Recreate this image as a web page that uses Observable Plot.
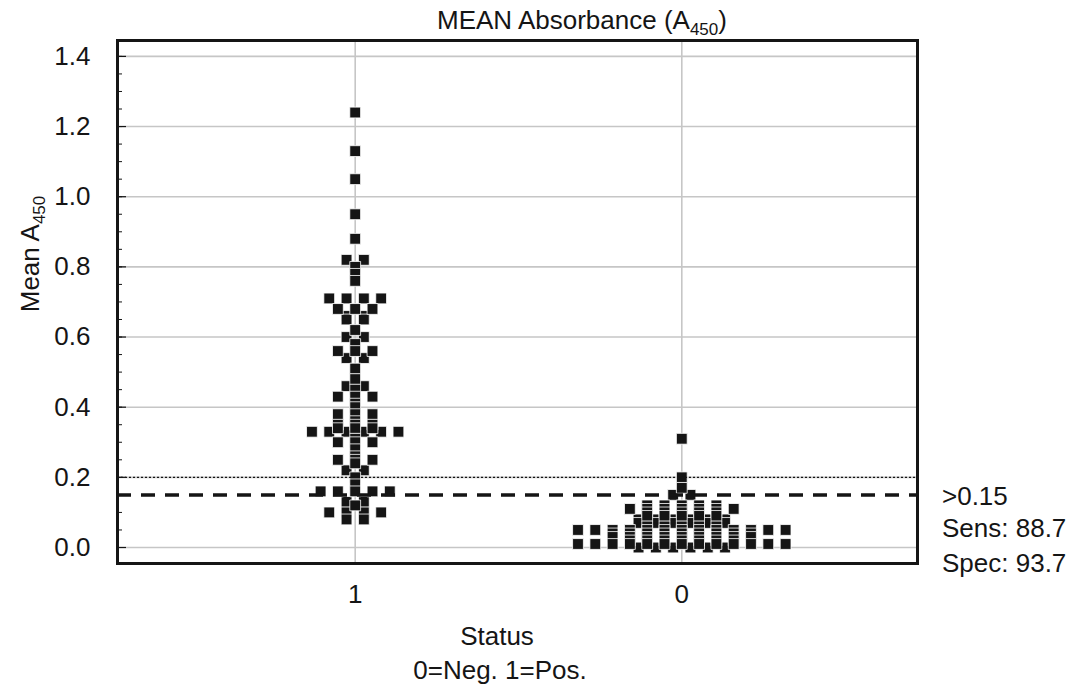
<!DOCTYPE html>
<html>
<head>
<meta charset="utf-8">
<script src="https://cdn.jsdelivr.net/npm/d3@7"></script>
<script src="https://cdn.jsdelivr.net/npm/@observablehq/plot@0.6"></script>
<style>
  html, body { margin: 0; padding: 0; background: #fff; }
  #chart { width: 1073px; height: 685px; }
  svg { font-family: "Liberation Sans", Arial, sans-serif; }
</style>
</head>
<body>
<div id="chart"></div>
<script>
// ---- data ----
const statusCategories = ["1", "0"];          // left to right
const tickLabels = ["1", "0"];
const yTicks = [0, 0.2, 0.4, 0.6, 0.8, 1.0, 1.2, 1.4];
const minorTicks = d3.range(0, 29).map(i => +(i * 0.05).toFixed(2));
const cutoff = 0.15;
const referenceLine = 0.2;
const criterionLabels = [">0.15", "Sens: 88.7", "Spec: 93.7"];

// Status 1 (positive) mean A450 values
const positiveValues = [
  1.24, 1.13, 1.05, 0.95, 0.88, 0.82, 0.82, 0.80, 0.78, 0.76,
  0.71, 0.71, 0.71, 0.71, 0.68, 0.68, 0.68, 0.66, 0.66, 0.65, 0.65, 0.62,
  0.60, 0.60, 0.58, 0.56, 0.56, 0.56, 0.54, 0.54, 0.51, 0.48, 0.46, 0.46, 0.45,
  0.43, 0.43, 0.43, 0.41, 0.40, 0.38, 0.38, 0.38, 0.36, 0.35, 0.35, 0.35,
  0.34, 0.34, 0.34, 0.33, 0.33, 0.33, 0.33, 0.33, 0.33, 0.31,
  0.30, 0.30, 0.30, 0.28, 0.26, 0.25, 0.25, 0.25, 0.24, 0.22, 0.22, 0.20, 0.18,
  0.16, 0.16, 0.16, 0.16, 0.16, 0.13, 0.13, 0.12, 0.10, 0.10, 0.10, 0.10, 0.08, 0.08
];
// Status 0 (negative) mean A450 values
const negativeValues = [
  0.31, 0.20, 0.17, 0.15, 0.15,
  0.12, 0.12, 0.12, 0.12, 0.12,
  0.11, 0.11, 0.11, 0.11, 0.11, 0.11, 0.11,
  0.10, 0.10, 0.10, 0.10, 0.10,
  0.09, 0.09, 0.09, 0.09, 0.09,
  0.08, 0.08, 0.08, 0.08, 0.08, 0.08,
  0.07, 0.07, 0.07, 0.07, 0.07, 0.07,
  0.06, 0.06, 0.06, 0.06, 0.06,
  0.05, 0.05, 0.05, 0.05, 0.05, 0.05, 0.05, 0.05, 0.05, 0.05, 0.05, 0.05, 0.05,
  0.04, 0.04, 0.04, 0.04, 0.04, 0.04, 0.04, 0.04, 0.04,
  0.03, 0.03, 0.03, 0.03, 0.03, 0.03, 0.03, 0.03, 0.03,
  0.02, 0.02, 0.02, 0.02, 0.02, 0.02, 0.02,
  0.01, 0.01, 0.01, 0.01, 0.01, 0.01, 0.01, 0.01, 0.01, 0.01, 0.01, 0.01, 0.01,
  0.00, 0.00, 0.00, 0.00, 0.00, 0.00
];

// ---- layout (dot plot: equal values spread side by side) ----
const W = 1073, H = 685;
const mL = 117, mR = 156, mT = 40, mB = 122;
const plotW = W - mL - mR;
const xDomain = [-0.7278, 1.7217];
const yDomain = [-0.0456, 1.4453];
const unitPx = plotW / (xDomain[1] - xDomain[0]);
const slotStep = 17.3 / unitPx;

function spread(values, category) {
  const pos = statusCategories.indexOf(category);
  const counts = d3.rollup(values, v => v.length, d => d);
  const out = [];
  for (const [v, n] of counts) {
    for (let i = 0; i < n; i++) {
      const slot = i - (n - 1) / 2;
      out.push({status: category, value: v, slot, half: slot % 1 !== 0, x: pos + slot * slotStep});
    }
  }
  return out;
}
const points = [...spread(positiveValues, "1"), ...spread(negativeValues, "0")];
// half-slot markers first (they end up beneath), then high-to-low
points.sort((a, b) => (b.half - a.half) || (b.value - a.value));

const ink = "#151515";
const fs = 26;
const chart = Plot.plot({
  width: W, height: H,
  marginLeft: mL, marginRight: mR, marginTop: mT, marginBottom: mB,
  style: {fontFamily: "Liberation Sans, Arial, sans-serif", fontSize: fs + "px", color: ink, background: "#fff"},
  x: {domain: xDomain, axis: null},
  y: {domain: yDomain, axis: null},
  marks: [
    Plot.gridY(yTicks, {stroke: "#c6c6c6", strokeOpacity: 1, strokeWidth: 1.6}),
    Plot.gridX([0, 1], {stroke: "#c6c6c6", strokeOpacity: 1, strokeWidth: 1.6}),
    Plot.tickY(minorTicks, {y: d => d, stroke: ink, strokeWidth: 1, insetRight: plotW - 5}),
    Plot.tickY(yTicks, {y: d => d, stroke: ink, strokeWidth: 1.2, insetRight: plotW - 9}),
    Plot.dot(points, {x: "x", y: "value", symbol: "square", r: 6.1, fill: ink, stroke: "white", strokeWidth: 0.8}),
    Plot.ruleY([referenceLine], {stroke: ink, strokeWidth: 1.3, strokeDasharray: "2,2"}),
    Plot.ruleY([cutoff], {stroke: ink, strokeWidth: 3.5, strokeDasharray: "14,10"}),
    Plot.axisY(yTicks, {anchor: "left", tickSize: 0, tickPadding: 27, tickFormat: d3.format(".1f"), fontSize: fs, label: null}),
    Plot.axisX([0, 1], {anchor: "bottom", tickSize: 0, tickPadding: 21, tickFormat: i => tickLabels[i], fontSize: fs, label: null}),
    Plot.frame({stroke: ink, strokeWidth: 3})
  ]
});
document.getElementById("chart").appendChild(chart);

// ---- texts outside the frame ----
const svg = d3.select(chart);
const font = "Liberation Sans, Arial, sans-serif";
function addText(x, y, parts, opts = {}) {
  const t = svg.append("text")
    .attr("x", x).attr("y", y)
    .attr("font-family", font).attr("font-size", opts.size || fs)
    .attr("fill", ink)
    .attr("text-anchor", opts.anchor || "start");
  if (opts.rotate) t.attr("transform", `rotate(-90, ${x}, ${y})`);
  for (const p of parts) {
    const s = t.append("tspan").text(p.text);
    if (p.sub) s.attr("font-size", 17).attr("dy", 6);
    if (p.up) s.attr("dy", -6);
  }
  return t;
}
addText(437, 29, [{text: "MEAN Absorbance (A"}, {text: "450", sub: true}, {text: ")", up: true}]);
addText(39, 254, [{text: "Mean A"}, {text: "450", sub: true}], {anchor: "middle", rotate: true});
addText(497, 645, [{text: "Status"}], {anchor: "middle"});
addText(500, 679, [{text: "0=Neg. 1=Pos."}], {anchor: "middle"});
criterionLabels.forEach((s, i) => addText(942, [505, 537, 572][i], [{text: s}]));
</script>
</body>
</html>
